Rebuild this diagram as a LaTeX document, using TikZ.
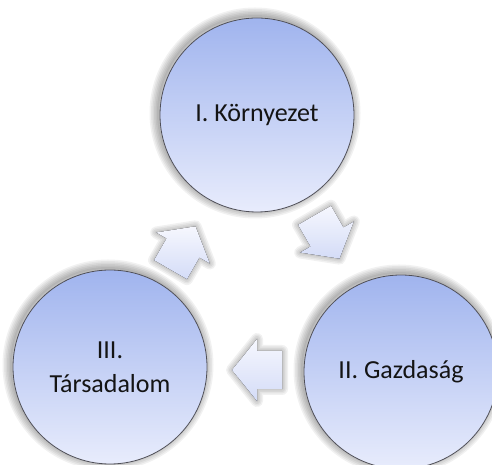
\documentclass[tikz,border=0pt]{standalone}
\usepackage{fontspec}
\setmainfont{Carlito}
\definecolor{circtop}{RGB}{160,180,238}
\definecolor{circbot}{RGB}{232,236,252}
\definecolor{arrtop}{RGB}{246,247,254}
\definecolor{arrbot}{RGB}{212,220,247}
\definecolor{rimcol}{RGB}{80,80,88}
\begin{document}
\begin{tikzpicture}[x=1pt,y=1pt,
  bubble/.style={circle, minimum size=194pt, inner sep=0pt, draw=rimcol, line width=0.8pt,
    top color=circtop, bottom color=circbot, font=\fontsize{26}{34}\selectfont, align=center, text=black!92},
  cyclearrow/.style={top color=arrtop, bottom color=arrbot, draw=none},
  glowline/.style={black, opacity=0.055, line join=round},
  cyclearr/.pic={
    \foreach \w in {3,6,9,12}
      \draw[glowline, line width=\w pt] (-25,-19)--(0,-19)--(0,-31)--(25,0)--(0,31)--(0,19)--(-25,19)--cycle;
    \fill[cyclearrow] (-25,-19)--(0,-19)--(0,-31)--(25,0)--(0,31)--(0,19)--(-25,19)--cycle;
  }]
\useasboundingbox (0,0) rectangle (492,465);
% soft shadows behind the circles
\foreach \px/\py in {257/350,110/98,401/93} {
  \foreach \w in {2,5,8,11,14,17}
    \draw[glowline, line width=\w pt] (\px-2,\py+2) circle (97pt);
}
\node[bubble] (env) at (257,350) {I. Környezet};
\node[bubble] (eco) at (401,93) {II. Gazdaság};
\node[bubble] (soc) at (110,98) {III.\\Társadalom};
% cycle arrows
\pic[rotate=-60] at (327,228) {cyclearr};
\pic[rotate=180] at (257,95) {cyclearr};
\pic[rotate=60] at (183,217) {cyclearr};
\end{tikzpicture}
\end{document}
